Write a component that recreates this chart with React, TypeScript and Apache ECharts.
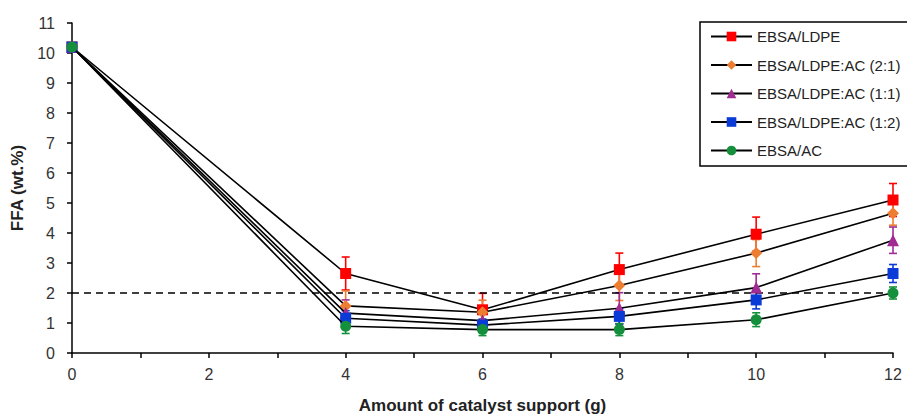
import React, { useEffect, useRef } from "react";
import * as echarts from "echarts";

const xValues = [0, 4, 6, 8, 10, 12];
const seriesNames = [
  "EBSA/LDPE",
  "EBSA/LDPE:AC (2:1)",
  "EBSA/LDPE:AC (1:1)",
  "EBSA/LDPE:AC (1:2)",
  "EBSA/AC",
];
const ebsaLdpe = [10.2, 2.65, 1.44, 2.78, 3.96, 5.1];
const ebsaLdpeAc21 = [10.2, 1.57, 1.36, 2.25, 3.33, 4.66];
const ebsaLdpeAc11 = [10.2, 1.33, 1.08, 1.49, 2.18, 3.76];
const ebsaLdpeAc12 = [10.2, 1.16, 0.93, 1.22, 1.77, 2.65];
const ebsaAc = [10.2, 0.89, 0.78, 0.78, 1.11, 2.0];

const errLdpe = [0, 0.55, 0.55, 0.55, 0.57, 0.55];
const errLdpeAc21 = [0, 0.5, 0.4, 0.5, 0.45, 0.4];
const errLdpeAc11 = [0, 0.44, 0.3, 0.52, 0.46, 0.44];
const errLdpeAc12 = [0, 0.25, 0.2, 0.25, 0.3, 0.3];
const errAc = [0, 0.24, 0.2, 0.2, 0.23, 0.2];

const thresholdValue = 2;

const values = [ebsaLdpe, ebsaLdpeAc21, ebsaLdpeAc11, ebsaLdpeAc12, ebsaAc];
const errors = [errLdpe, errLdpeAc21, errLdpeAc11, errLdpeAc12, errAc];
const colors = ["#FF0000", "#ED7D31", "#A02B93", "#0B3BD6", "#14903C"];
const symbols = ["rect", "diamond", "triangle", "rect", "circle"];
const symbolSizes = [11, 12, 12, 11, 11];

const FONT = "'Liberation Sans', Arial, sans-serif";

export default function App() {
  const ref = useRef<HTMLDivElement>(null);
  useEffect(() => {
    if (!ref.current) return;
    const chart = echarts.init(ref.current, undefined, { renderer: "svg" });

    const lineSeries: any[] = values.map((vals, i) => ({
      name: seriesNames[i],
      type: "line",
      data: vals.map((v, j) => [xValues[j], v]),
      symbol: symbols[i],
      symbolSize: symbolSizes[i],
      showSymbol: true,
      lineStyle: { color: "#000", width: 1.6 },
      itemStyle: { color: colors[i] },
      z: 5 + i,
      markLine:
        i === 0
          ? {
              silent: true,
              symbol: "none",
              label: { show: false },
              lineStyle: { color: "#000", type: [7, 5], width: 1.6 },
              data: [{ yAxis: thresholdValue }],
            }
          : undefined,
    }));

    const errSeries: any[] = values.map((vals, i) => ({
      type: "custom",
      silent: true,
      z: 3,
      data: vals.map((v, j) => [xValues[j], v - errors[i][j], v + errors[i][j]]),
      renderItem: (params: any, api: any) => {
        const x = api.value(0);
        if (api.value(2) - api.value(1) <= 0) return null;
        const lo = api.coord([x, api.value(1)]);
        const hi = api.coord([x, api.value(2)]);
        const hw = 4;
        const style = { stroke: colors[i], lineWidth: 1.6, fill: "none" };
        return {
          type: "group",
          children: [
            { type: "line", shape: { x1: lo[0], y1: lo[1], x2: hi[0], y2: hi[1] }, style },
            { type: "line", shape: { x1: lo[0] - hw, y1: lo[1], x2: lo[0] + hw, y2: lo[1] }, style },
            { type: "line", shape: { x1: hi[0] - hw, y1: hi[1], x2: hi[0] + hw, y2: hi[1] }, style },
          ],
        };
      },
    }));

    chart.setOption({
      animation: false,
      grid: { left: 72, right: 14, top: 23, bottom: 62 },
      legend: {
        data: seriesNames,
        orient: "vertical",
        left: 700,
        top: 22,
        itemWidth: 41,
        itemHeight: 12,
        itemGap: 13.5,
        padding: [7, 30, 8, 10],
        backgroundColor: "#fff",
        borderColor: "#000",
        borderWidth: 1.5,
        textStyle: { fontFamily: FONT, fontSize: 15, color: "#222" },
      },
      xAxis: {
        type: "value",
        min: 0,
        max: 12,
        interval: 1,
        axisLine: { lineStyle: { color: "#000", width: 1.5 } },
        axisTick: { show: true, length: 5, lineStyle: { color: "#000", width: 1.5 } },
        splitLine: { show: false },
        axisLabel: {
          fontFamily: FONT,
          fontSize: 16,
          color: "#333",
          margin: 13,
          formatter: (v: number) => (v % 2 === 0 ? String(v) : ""),
        },
        name: "Amount of catalyst support (g)",
        nameLocation: "middle",
        nameGap: 44,
        nameTextStyle: { fontFamily: FONT, fontSize: 17, fontWeight: "bold", color: "#222" },
      },
      yAxis: {
        type: "value",
        min: 0,
        max: 11,
        interval: 1,
        axisLine: { show: true, lineStyle: { color: "#000", width: 1.5 } },
        axisTick: { show: true, length: 5, lineStyle: { color: "#000", width: 1.5 } },
        splitLine: { show: false },
        axisLabel: { fontFamily: FONT, fontSize: 16, color: "#333", margin: 17 },
        name: "FFA (wt.%)",
        nameLocation: "middle",
        nameGap: 44,
        nameTextStyle: { fontFamily: FONT, fontSize: 17, fontWeight: "bold", color: "#222" },
      },
      series: [...errSeries, ...lineSeries],
    });
    return () => chart.dispose();
  }, []);
  return (
    <div
      ref={ref}
      style={{ position: "fixed", left: 0, top: 0, width: 907, height: 419, background: "#fff" }}
    />
  );
}
